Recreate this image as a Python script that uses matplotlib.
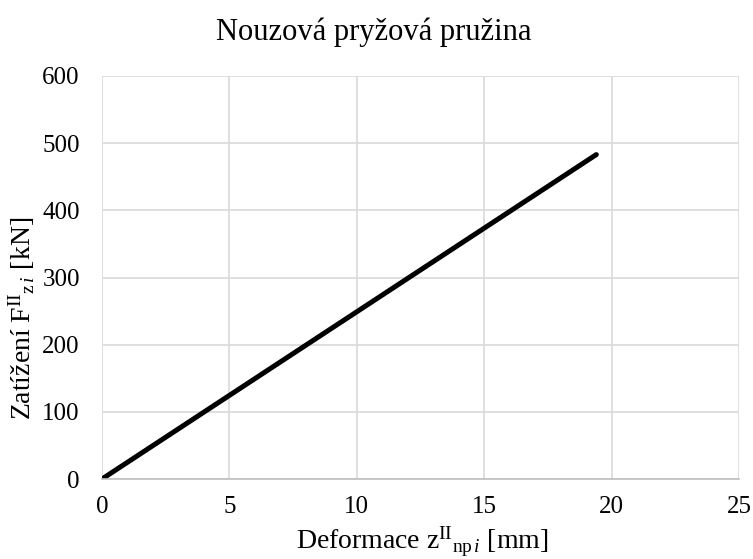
import matplotlib
matplotlib.use("Agg")
import matplotlib.pyplot as plt

# Spring characteristic: deformation [mm] vs. load [kN]
deformation_mm = [0.0, 19.4]
load_kN = [0.0, 483.0]

x_ticks = [0, 5, 10, 15, 20, 25]
y_ticks = [0, 100, 200, 300, 400, 500, 600]

plt.rcParams['font.family'] = ['Liberation Serif', 'DejaVu Serif']
plt.rcParams['mathtext.fontset'] = 'custom'
plt.rcParams['mathtext.rm'] = 'Liberation Serif'
plt.rcParams['mathtext.it'] = 'Liberation Serif:italic'

W, H = 753, 559
fig = plt.figure(figsize=(W / 100, H / 100), dpi=100)
ax = fig.add_axes([102 / W, 1 - 479 / H, (739 - 102) / W, (479 - 76) / H])

ax.plot(deformation_mm, load_kN, color='black', linewidth=3.6, solid_capstyle='round')

ax.set_xlim(0, 25)
ax.set_ylim(0, 600)
ax.set_xticks(x_ticks)
ax.set_yticks(y_ticks)
ax.tick_params(axis='x', length=0, labelsize=18, pad=12)
ax.tick_params(axis='y', length=0, labelsize=18, pad=16)
ax.grid(True, color='#d9d9d9', linewidth=1.2)
ax.set_axisbelow(True)
for side in ('top', 'right', 'left'):
    ax.spines[side].set_visible(False)
ax.spines['bottom'].set_color('#bfbfbf')
ax.spines['bottom'].set_linewidth(1.2)

fig.text(374 / W, 1 - 32 / H, 'Nouzová pryžová pružina',
         fontsize=22, ha='center', va='center')
fig.text(422 / W, 1 - 542 / H,
         r'Deformace z$^{\mathrm{II}}{}_{\mathrm{np}\,\mathit{i}}$ [mm]',
         fontsize=20, ha='center', va='center')
fig.text(22 / W, 1 - 318 / H,
         r'Zatížení F$^{\mathrm{II}}{}_{\mathrm{z}\,\mathit{i}}$ [kN]',
         fontsize=20, ha='center', va='center', rotation=90)

fig.savefig('out.png', dpi=100)
